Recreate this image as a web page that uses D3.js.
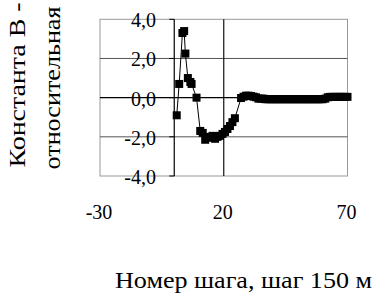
<!doctype html>
<html lang='ru'>
<head>
    <meta charset='utf-8'>
    <script src='https://cdn.jsdelivr.net/npm/d3@7'></script>
    <style>
        body { margin: 0; background: white; }
    </style>
</head>
<body>
<svg id='chart' width='374' height='296' font-family='"Liberation Serif", "Times New Roman", serif'></svg>
<script>
    // step number and relative B constant
    const steps = [1, 2, 3.3, 4, 4.5, 5.5, 6.5, 7, 9, 10.5, 11.5, 12.5, 13.5, 14.5, 15.5, 16.5, 17.5, 18.5,
        19.5, 20.5, 21.5, 22.5, 23.5, 24.5, 27, 28, 29, 30, 31, 32, 33, 34, 35, 36, 37, 38, 39, 40, 41,
        42, 43, 44, 45, 46, 47, 48, 49, 50, 51, 52, 53, 54, 55, 56, 57, 58, 59, 60, 61, 62, 63, 64, 65,
        66, 67, 68, 69, 70];
    const values = [-0.9, 0.7, 3.3, 3.4, 2.25, 1.0, 0.8, 0.7, 0.0, -1.7, -1.8, -2.15, -2.05, -2.0, -1.95,
        -2.1, -2.0, -1.95, -1.85, -1.75, -1.6, -1.45, -1.25, -1.05, -0.02, 0.05, 0.1, 0.1, 0.08, 0.05,
        0.02, -0.05, -0.05, -0.05, -0.08, -0.08, -0.08, -0.08, -0.08, -0.08, -0.08, -0.08, -0.08, -0.08,
        -0.08, -0.08, -0.08, -0.08, -0.08, -0.08, -0.08, -0.08, -0.08, -0.08, -0.08, -0.08, -0.08, -0.08,
        -0.05, 0.02, 0.04, 0.04, 0.04, 0.04, 0.04, 0.04, 0.04, 0.04];
    const xTicks = [-30, 20, 70];
    const yTicks = [-4, -2, 0, 2, 4];
    const yTitle = ['Константа В -', 'относительная'];
    const xTitle = 'Номер шага, шаг 150 м';

    const plotLeft = 100, plotRight = 347.5, plotTop = 19.3, plotBottom = 176;
    const svg = d3.select('#chart');

    const x = d3.scaleLinear().domain([-30, 70]).range([plotLeft, plotRight]);
    const y = d3.scaleLinear().domain([-4, 4]).range([plotBottom, plotTop]);
    const fmt = d => d3.format('.1f')(d).replace('.', ',').replace('−', '-');

    // frame
    svg.append('rect')
        .attr('x', plotLeft).attr('y', plotTop)
        .attr('width', plotRight - plotLeft).attr('height', plotBottom - plotTop)
        .attr('fill', 'none').attr('stroke', '#999');

    // horizontal grid
    svg.selectAll('.hgrid')
        .data(yTicks.filter(d => d !== 0 && Math.abs(d) !== 4))
        .enter().append('line')
        .attr('x1', plotLeft).attr('x2', plotRight)
        .attr('y1', d => y(d)).attr('y2', d => y(d))
        .attr('stroke', '#555');

    // vertical grid (only interior major line)
    svg.selectAll('.vgrid')
        .data(xTicks.filter(d => d > -30 && d < 70))
        .enter().append('line')
        .attr('x1', d => x(d)).attr('x2', d => x(d))
        .attr('y1', plotTop).attr('y2', plotBottom)
        .attr('stroke', '#111').attr('stroke-width', 1.2);

    // axes crossing at zero
    svg.append('line')
        .attr('x1', plotLeft).attr('x2', plotRight)
        .attr('y1', y(0)).attr('y2', y(0))
        .attr('stroke', 'black').attr('stroke-width', 1.2);
    svg.append('line')
        .attr('x1', x(0)).attr('x2', x(0))
        .attr('y1', plotTop).attr('y2', plotBottom)
        .attr('stroke', 'black').attr('stroke-width', 1.2);
    svg.selectAll('.ytick')
        .data(yTicks)
        .enter().append('line')
        .attr('x1', x(0) - 5).attr('x2', x(0))
        .attr('y1', d => y(d)).attr('y2', d => y(d))
        .attr('stroke', 'black');

    // y tick labels beside the zero axis
    svg.selectAll('.ylab')
        .data(yTicks)
        .enter().append('text')
        .attr('x', 156)
        .attr('y', d => y(d) + 8)
        .attr('text-anchor', 'end')
        .attr('font-size', 20)
        .text(fmt);

    // x tick labels low, under the plot
    svg.selectAll('.xlab')
        .data(xTicks)
        .enter().append('text')
        .attr('x', d => x(d) - 1)
        .attr('y', 219)
        .attr('text-anchor', 'middle')
        .attr('font-size', 20)
        .text(d => d < 0 ? '-' + Math.abs(d) : d);

    // series
    const pts = steps.map((s, i) => [s, values[i]]);
    svg.append('path')
        .datum(pts)
        .attr('fill', 'none')
        .attr('stroke', 'black')
        .attr('stroke-width', 1)
        .attr('d', d3.line().x(d => x(d[0])).y(d => y(d[1])));
    const m = 8;
    svg.selectAll('.mark')
        .data(pts)
        .enter().append('rect')
        .attr('x', d => x(d[0]) - m / 2)
        .attr('y', d => y(d[1]) - m / 2)
        .attr('width', m).attr('height', m)
        .attr('fill', 'black');

    // titles
    svg.append('text')
        .attr('transform', 'translate(25,85) rotate(-90)')
        .attr('text-anchor', 'middle')
        .attr('font-size', 24)
        .attr('textLength', 165)
        .attr('lengthAdjust', 'spacingAndGlyphs')
        .text(yTitle[0]);
    svg.append('text')
        .attr('transform', 'translate(60,88) rotate(-90)')
        .attr('text-anchor', 'middle')
        .attr('font-size', 24)
        .attr('textLength', 163)
        .attr('lengthAdjust', 'spacingAndGlyphs')
        .text(yTitle[1]);
    svg.append('text')
        .attr('x', 115).attr('y', 288)
        .attr('font-size', 24)
        .attr('textLength', 257)
        .attr('lengthAdjust', 'spacingAndGlyphs')
        .text(xTitle);
</script>
</body>
</html>
